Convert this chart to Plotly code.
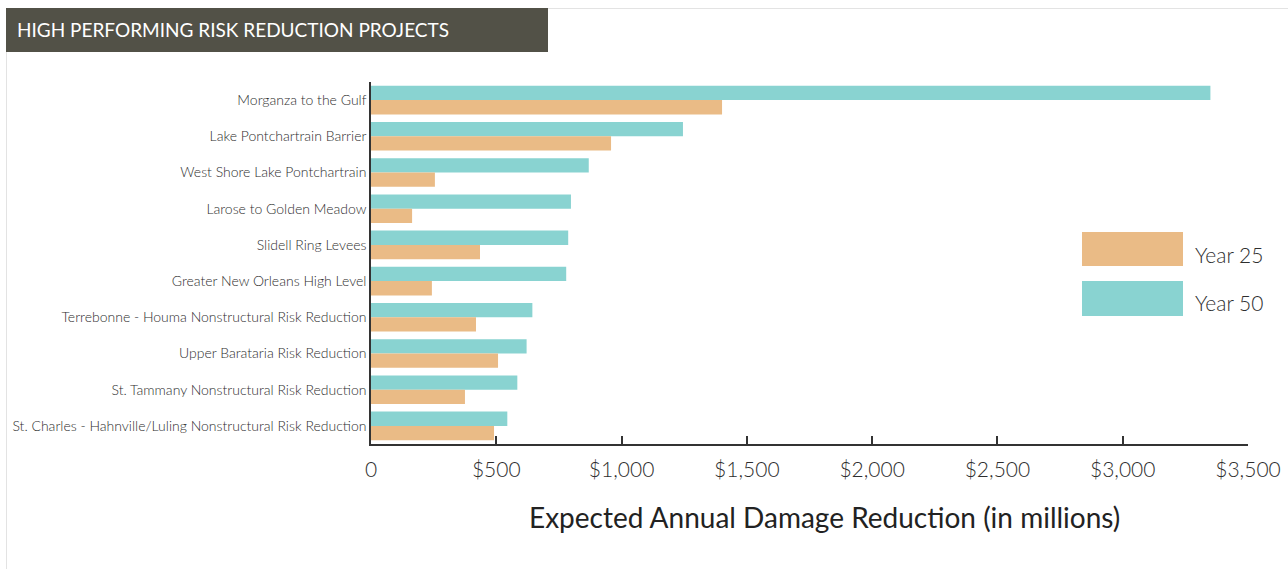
import plotly.graph_objects as go

# ---- data ----
projects = [
    "Morganza to the Gulf",
    "Lake Pontchartrain Barrier",
    "West Shore Lake Pontchartrain",
    "Larose to Golden Meadow",
    "Slidell Ring Levees",
    "Greater New Orleans High Level",
    "Terrebonne - Houma Nonstructural Risk Reduction",
    "Upper Barataria Risk Reduction",
    "St. Tammany Nonstructural Risk Reduction",
    "St. Charles - Hahnville/Luling Nonstructural Risk Reduction",
]
year50 = [3350, 1245, 869, 798, 787, 779, 644, 621, 584, 544]
year25 = [1401, 958, 255, 164, 435, 243, 419, 507, 375, 491]
tick_values = [0, 500, 1000, 1500, 2000, 2500, 3000, 3500]
tick_labels = ["0", "$500", "$1,000", "$1,500", "$2,000", "$2,500", "$3,000", "$3,500"]
series_names = ["Year 25", "Year 50"]
title_text = "HIGH PERFORMING RISK REDUCTION PROJECTS"
axis_title = "Expected Annual Damage Reduction (in millions)"

C25 = "#EABB86"
C50 = "#89D3D1"
FONT = "Lato"
TXT = "#2E2E2E"

W, H = 1288, 569
L, R, T, B = 371, 40, 82, 125
PW = W - L - R
PH = H - T - B


def px_x(p):
    return (p - L) / PW


def px_y(p):
    return (H - B - p) / PH


fig = go.Figure()
fig.add_trace(go.Bar(name=series_names[1], y=projects, x=year50, orientation="h",
                     marker=dict(color=C50, line=dict(width=0))))
fig.add_trace(go.Bar(name=series_names[0], y=projects, x=year25, orientation="h",
                     marker=dict(color=C25, line=dict(width=0))))

shapes = [
    # header banner
    dict(type="rect", xref="paper", yref="paper", x0=px_x(6), x1=px_x(548),
         y0=px_y(52), y1=px_y(8), fillcolor="#525147", line=dict(width=0), layer="above"),
    # top border line
    dict(type="line", xref="paper", yref="paper", x0=px_x(548), x1=px_x(1288),
         y0=px_y(8.5), y1=px_y(8.5), line=dict(color="#E3E3E3", width=1)),
    # left border line
    dict(type="line", xref="paper", yref="paper", x0=px_x(6.5), x1=px_x(6.5),
         y0=px_y(52), y1=px_y(569), line=dict(color="#E3E3E3", width=1)),
    # legend swatches
    dict(type="rect", xref="paper", yref="paper", x0=px_x(1082), x1=px_x(1183),
         y0=px_y(266), y1=px_y(232), fillcolor=C25, line=dict(width=0)),
    dict(type="rect", xref="paper", yref="paper", x0=px_x(1082), x1=px_x(1183),
         y0=px_y(316), y1=px_y(281), fillcolor=C50, line=dict(width=0)),
]

annotations = [
    dict(text=title_text, xref="paper", yref="paper", x=px_x(15), y=px_y(30),
         xanchor="left", yanchor="middle", showarrow=False,
         font=dict(family=FONT, size=19, color="white")),
    dict(text=axis_title, xref="paper", yref="paper", x=px_x(824), y=px_y(517),
         xanchor="center", yanchor="middle", showarrow=False,
         font=dict(family=FONT, size=28, color="#222222")),
    dict(text=series_names[0], xref="paper", yref="paper", x=px_x(1193), y=px_y(254),
         xanchor="left", yanchor="middle", showarrow=False,
         font=dict(family=FONT, size=21, color=TXT, weight=300)),
    dict(text=series_names[1], xref="paper", yref="paper", x=px_x(1193), y=px_y(302),
         xanchor="left", yanchor="middle", showarrow=False,
         font=dict(family=FONT, size=21, color=TXT, weight=300)),
]

fig.update_layout(
    width=W, height=H,
    margin=dict(l=L, r=R, t=T, b=B, pad=0, autoexpand=False),
    paper_bgcolor="white", plot_bgcolor="white",
    barmode="group", bargap=0.21, bargroupgap=0,
    showlegend=False,
    shapes=shapes, annotations=annotations,
    font=dict(family=FONT, color=TXT),
    xaxis=dict(range=[0, 3500], tickvals=tick_values, ticktext=tick_labels,
               automargin=False,
               showgrid=False, zeroline=False, showline=True, linecolor="#333333",
               linewidth=1.5, ticks="inside", ticklen=8, tickwidth=1.5, tickcolor="#333333",
               tickfont=dict(family=FONT, size=21, color=TXT, weight=300), ticklabelstandoff=6,
               fixedrange=True),
    yaxis=dict(autorange="reversed", automargin=False, showgrid=False, zeroline=False,
               showline=True, linecolor="#333333", linewidth=1.5, ticks="",
               layer="below traces",
               tickfont=dict(family=FONT, size=14, color=TXT, weight=300), ticklabelstandoff=0,
               fixedrange=True),
)

fig.write_html("out.html", config={"displayModeBar": False},
               post_script="document.body.style.margin='0';document.body.style.padding='0';")
